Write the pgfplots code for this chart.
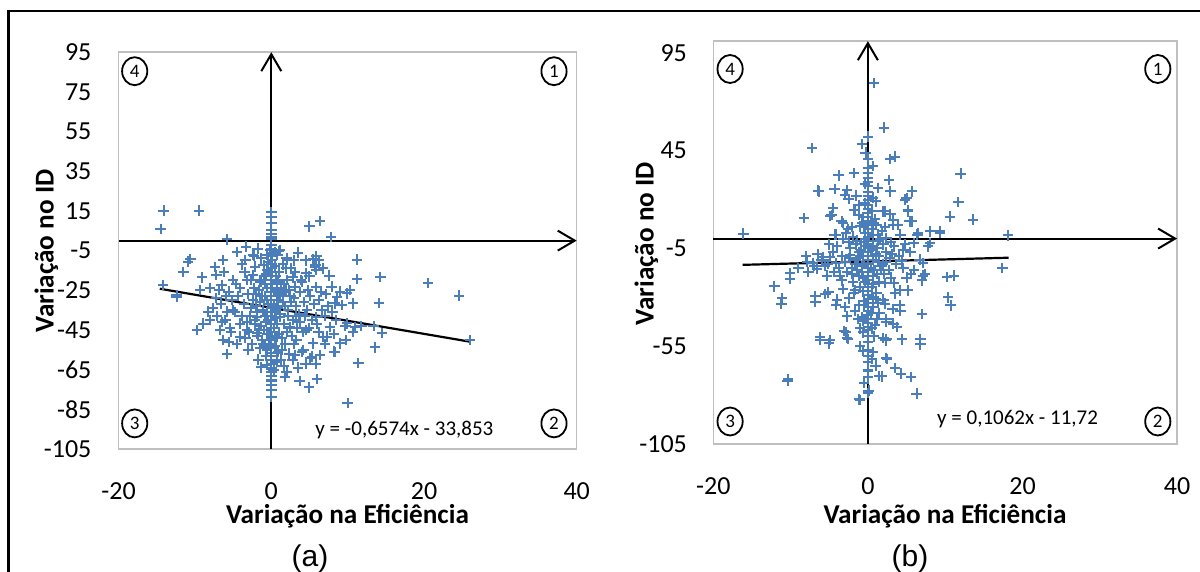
\documentclass[border=0pt]{standalone}
\usepackage{pgfplots}
\pgfplotsset{compat=1.18}
\usepackage{fontspec}
\setmainfont{Carlito}
\newfontfamily\arialfont{Liberation Sans}
\usetikzlibrary{arrows.meta}

\definecolor{ptblue}{RGB}{74,126,187}
\definecolor{framegray}{RGB}{191,191,191}

\pgfplotsset{
  quadrant/.style={
    scale only axis,
    axis line style={framegray, line width=0.8pt},
    xmin=-20, xmax=40, ymin=-105,
    xtick={-20,0,20,40},
    tick style={draw=none},
    major tick length=0pt,
    ticklabel style={font=\fontsize{13}{15}\selectfont, inner sep=0pt},
    /pgf/number format/assume math mode=true,
    xticklabel style={anchor=base, yshift=-25.2pt},
    clip=false,
  },
  pts/.style={only marks, mark=+, mark size=2.6pt, ptblue,
    mark options={line width=1pt}},
  qaxis/.style={black, line width=1pt, -{Straight Barb[length=8.5pt,width=10pt]}},
  trend/.style={black, line width=1.1pt, no marks},
}

\begin{document}
\begin{tikzpicture}
\useasboundingbox (0,0) rectangle (600pt,286pt);

% outer frame
\draw[line width=1.4pt] (4.2pt,-10pt) -- (4.2pt,280.5pt) -- (620pt,280.5pt);

% ---------------- panel (a) ----------------
\begin{axis}[quadrant, at={(59.3pt,61.55pt)}, anchor=south west,
  width=229.05pt, height=198.35pt, ymax=95,
  ytick={-105,-85,...,95},
  yticklabel style={anchor=east, xshift=-13.4pt}]
\addplot[qaxis] coordinates {(-20,0) (40,0)};
\addplot[qaxis] coordinates {(0,-105) (0,95)};
\addplot[pts] coordinates {
(-14.1,15.1) (-9.5,15.1) (-14.5,5.8) (-5.8,0.6) (5.0,7.2) (6.4,9.9) (7.8,1.7)
(0,14.5) (0,12) (0,9) (0,5.4) (0,3.5) (0,2.0) (0,0.8)
(11.2,-9.6) (11.2,-19.4) (14.3,-18.4) (20.5,-21.3) (24.6,-27.7) (26.0,-50.1)
(14.1,-31.5) (14.5,-46.6) (13.6,-53.8) (11.4,-61.8) (10.0,-82) (1.8,-68.9)
(3.7,-70.8) (4.9,-74) (6.0,-69.9) (0,-78.8) (0,-75.5) (0,-73) (0,-71)
(8.2,-55.9) (9.8,-50.1) (9.0,-51.8) (2.8,-60.2) (3.1,-57.7) (5.3,-58.5)
(6.4,-57.7) (8.3,-56)
(-4.5,-5.6) (-2.4,-7.3) (-3.4,-9.8) (-10.6,-9.4) (-10.9,-10.6) (-6.3,-9.8)
(-7.4,-13.4) (-6.2,-15.7) (-11.5,-15.7) (-9.1,-18.5) (-7.2,-17.3) (-6.5,-22.4)
(-14.2,-22.4) (-12.4,-27.4) (-9.3,-24.9) (-8.0,-24) (-6.8,-24.9) (-5.6,-25.7)
(-4.1,-24) (-3.2,-19.8) (-2.4,-17.3) (-2.1,-13.1) (-1.0,-12.3) (-1.5,-19.8)
(-0.2,-4.7) (0.5,-5.6) (1.0,-5.3) (2.1,-9.7) (-2.3,-7.5)
(-12.4,-28.3) (-8.3,-35.8) (-8.0,-40) (-8.9,-41.8) (-9.7,-45.1) (-6.3,-50.1)
(-5.6,-51) (-5.8,-57.2) (-6.7,-45.1) (-6.4,-40.9) (-5.8,-35.8) (-5.0,-35)
(-4.1,-41.8) (-4.1,-48.4) (-3.2,-45.1) (-1.9,-46.8) (-1.5,-54.3) (-0.6,-55.1)
(-1.3,-63.9) (-0.6,-62.7) (0,-66.1) (0,-70.3) (0,-56.8) (-5.4,-44.2) (-1.9,-38.4)
(1.1,-4.7) (2.0,-8.9) (5.7,-13.1) (5.9,-14.8) (4.6,-16.5) (7.6,-17.8) (2.8,-18.5)
(4.0,-20.7) (7.9,-23.2) (5.9,-23.5) (4.8,-24.9) (3.1,-23.2) (1.9,-24.9) (9.0,-25.7)
(10.3,-24.9) (9.9,-26.6) (0.9,-19.8) (0.7,-24.9) (8.3,-31.6) (9.2,-32.5)
(10.7,-31.6) (8.6,-28.3) (6.8,-48.4) (5.5,-51.8) (5.9,-38.4) (4.6,-45.1)
(2.4,-43.4) (1.1,-38.4) (0.7,-48.4) (3.3,-50.1) (4.0,-56) (0.7,-56.8) (0.7,-61)
(4.2,-55.1) (5.1,-59.3) (7.3,-48.4) (7.7,-43.4) (9.7,-43) (11.0,-43.4)
(10.7,-45.9) (11.8,-43) (13.4,-43) (9.9,-41.7) (5.8,-12.1) (7.6,-17.6)
(0,-2) (0,-4) (0,-6) (0,-8) (0.1,-10) (0,-12) (0,-14) (0.1,-16) (0,-18) (0,-20)
(0,-22) (0.1,-24) (0,-26) (0,-28) (0,-30) (0,-32) (0,-34) (0.1,-36) (0,-38)
(0,-40) (0,-42) (0,-44) (0,-46) (0,-48) (0,-50) (0,-52) (0,-54) (0,-58) (0,-60)
(0,-62) (0,-64) (0,-68)
(-0.5,-15) (0.6,-18) (-0.8,-22) (0.9,-27) (-0.6,-30) (0.4,-33) (-1.1,-35)
(1.2,-37) (-0.4,-40) (0.7,-42) (-0.9,-45) (1.0,-47) (-0.3,-50) (0.5,-53)
(-0.7,-58) (1.3,-60) (-1.2,-28) (1.5,-31) (-1.6,-25) (1.7,-22) (-2.0,-33)
(2.2,-35) (-2.4,-30) (2.5,-28) (-2.8,-38) (2.9,-40) (-3.1,-27) (3.2,-33)
(-3.6,-32) (3.6,-37) (-2.2,-42) (2.0,-46) (-1.8,-48) (1.8,-52) (-1.0,-52)
(1.4,-55) (-2.6,-20) (2.6,-14) (-1.3,-9) (1.5,-12) (0.8,-7) (-0.5,-7)
(-3.5,-16) (3.8,-26) (-4.4,-28) (4.3,-31) (-4.8,-36) (4.7,-35) (-3.9,-38)
(3.4,-44) (-2.9,-46) (2.7,-48) (-2.5,-52) (2.3,-57) (-3.4,-49) (1.6,-63)
(-1.7,-60) (0.3,-65) (5.1,-28) (5.6,-32) (6.2,-30) (6.6,-35) (7.0,-38)
(5.3,-40) (6.0,-42) (4.9,-44) (7.4,-33) (8.0,-36) (6.5,-26) (7.2,-27)
(8.5,-40) (4.4,-38) (3.9,-20) (5.0,-18) (3.0,-10) (1.9,-14) (-5.2,-30)
(-5.9,-28) (-6.6,-32) (-7.2,-29) (-7.6,-34) (-4.6,-22) (-3.8,-12) (-5.0,-20)
(-7.1,-38) (-6.0,-40) (-5.3,-46) (-4.5,-52) (-3.0,-55) (2.0,-66) (3.5,-64)
(4.5,-62) (5.8,-62) (7.0,-52) (8.2,-47) (6.2,-46) (3.0,-52) (1.2,-28)
(-1.4,-43) (0.6,-35) (-0.8,-38) (2.1,-20) (-2.3,-24) (1.0,-16) (-0.9,-18)
(3.1,-16) (4.5,-10) (5.9,-8) (6.2,-10) (6.8,-14) (3.5,-6) (-1.8,-4)
(-3.3,-3) (5.5,-9.5)
(-0.4,-11) (0.5,-13) (-0.7,-17) (0.8,-21) (-0.5,-24) (0.6,-26) (-0.8,-28)
(0.7,-30) (-0.4,-32) (0.9,-34) (-0.6,-36) (0.5,-39) (-0.7,-41) (0.4,-44)
(-0.5,-47) (0.6,-49) (-0.8,-53) (0.9,-56) (1.6,-26) (-1.5,-31) (1.8,-33)
(-1.9,-36) (2.2,-38) (-2.1,-40) (1.7,-42) (-1.6,-45) (2.4,-44) (1.4,-49)
(-1.2,-50) (2.6,-31) (-2.7,-34) (3.0,-29) (-3.2,-41) (3.7,-41) (4.1,-46)
(-2.0,-27) (1.3,-24) (2.3,-25) (-1.4,-21) (3.3,-38)
};
% linear trend y = -0,6574x - 33,853
\addplot[trend] coordinates {(-14.6,-24.255) (26,-50.945)};
\end{axis}

% ---------------- panel (b) ----------------
\begin{axis}[quadrant, at={(356.65pt,64.1pt)}, anchor=south west,
  width=231.9pt, height=201.3pt, ymax=101,
  ytick={-105,-55,...,95},
  yticklabel style={anchor=east, xshift=-13pt}]
\addplot[qaxis] coordinates {(-20,0) (40,0)};
\addplot[qaxis] coordinates {(0,-105) (0,101)};
\addplot[pts] coordinates {
(0.8,79.5) (2.1,56.8) (0.05,52.2) (-0.8,48.3) (-7.2,46.3) (2.9,40.7) (3.5,42)
(0,40.8) (-3.8,32.3) (-1.8,33.5) (2.7,30.1) (12.0,33.2) (-6.4,24.6) (-4.3,25.5)
(-2.7,25) (-3.0,22.5) (-1.5,22) (-2.5,20.2) (2.9,24.1) (5.7,24.1) (5.0,20.7)
(4.8,19.9) (11.7,18.7) (-4.5,15.6) (-4.7,12.2) (-1.8,14.8) (-8.3,10.5)
(-3.4,8.8) (1.9,13.9) (2.9,12.7) (5.2,13.9) (5.7,8.8) (3.3,9.7) (3.9,7.1)
(10.6,11.3) (13.6,9.7) (8.0,3.7) (9.3,3.7) (6.5,2.9) (-16.1,2.5) (18.1,1.6)
(-4.3,2.0)
(0,33.5) (0,26.7) (0,19.8) (0,17) (0,15) (0,13) (0,11) (0,9) (0,7) (0,5) (0,3) (0,1)
(-4.9,11.7) (-6.3,24.1) (-1.7,14.8) (-3.2,8) (-2.6,4.9) (-4.1,2.0) (-1.0,6.2)
(1.1,7.1) (2.2,13.9) (-7.9,-11.9) (-7.1,-12.7) (-5.8,-9.4) (-4.9,-9.4)
(-6.6,-15.7) (-7.7,-17.1) (-10.1,-20.6) (-5.3,-18.9) (-4.1,-12.7) (-3.6,-18.9)
(-2.7,-17.1) (-3.4,-21.4) (-1.9,-22.3) (-2.3,-8.2)
(-12.1,-24.5) (-11.2,-33.4) (-6.8,-32.3) (-5.5,-28.3) (-5.1,-27.5) (-4.1,-33.9)
(-3.2,-25.7) (-2.4,-30.6) (-1.7,-26.4) (-2.7,-39.8) (-1.7,-37) (-1.0,-46)
(-6.2,-51.9) (-5.0,-53.6) (-3.1,-47.4) (-2.7,-50.8) (-10.3,-72.1) (-1.1,-82.3)
(0.1,-77.8) (1.5,-70.4) (0,-67) (0.5,-61.5) (2.4,-61) (2.4,-51.6) (2.0,-50.8)
(0,-50) (0,-53) (0,-57) (-0.6,-57.6) (2.4,-41.4) (2.0,-31.2) (2.2,-22.7)
(17.4,-15.0) (9.3,3.0) (8.0,-2.3) (5.2,14.4) (5.4,8.8) (10.2,-19.6) (11.1,-18.9)
(10.4,-30.1) (10.7,-34.2) (7.1,-18.9) (7.4,-18.1) (7.0,-21.4) (5.2,-26.5)
(4.2,-26.5) (3.4,-22.6) (4.2,-36.8) (7.0,-38.5) (6.8,-54.1) (4.4,-51.6)
(3.3,-43.5) (3.8,-45.2) (2.4,-42.7) (2.2,-33.3) (2.3,-52.1) (6.4,2.0) (7.8,-4.0)
(5.9,-2.3) (4.6,-5.7) (6.7,-10.8) (7.1,-12.5) (4.4,-11.7) (3.3,7.1) (2.4,0.3)
(4.2,2.0)
(-11.1,-30.4) (-10.1,-17.8) (-6.8,-29.3) (-4.0,-31.2) (6.3,-79.3) (5.6,-70.9)
(4.3,-69.1) (3.5,-66.3) (2.5,-61.6) (1.8,-70.5) (-1.0,-82.6) (0,-79) (0,-67.6)
(-10.4,-72.8) (-6.2,-50.4) (-4.9,-51.9) (-2.8,-48) (-2.6,-51.4) (4.1,-34.2)
(6.8,-51.3)
(0,-1) (0,-3) (0,-5) (0,-7) (0,-9) (0,-11) (0,-13) (0,-15) (0,-17) (0,-19)
(0,-21) (0,-23) (0,-25) (0,-27) (0,-29) (0,-31) (0,-33) (0,-35) (0,-37) (0,-39)
(0,-41) (0,-43) (0,-45) (0,-47) (0,-60) (0,-63) (0,-71) (0,22) (0,24) (0,29)
(0,31) (0,36)
(-0.5,-2) (0.6,-4) (-0.9,-6) (1.0,-8) (-1.3,-10) (1.4,-12) (-0.7,-14) (0.8,-16)
(-1.5,-3) (1.6,0) (-1.9,1) (2.0,-3) (-2.3,-5) (2.4,-7) (-0.4,3) (0.5,5)
(-0.8,8) (0.9,10) (-1.2,12) (1.3,2) (-2.1,6) (1.8,4) (-0.6,-20) (0.7,-23)
(-1.0,-25) (1.1,-28) (-0.5,-32) (0.6,-35) (-0.8,-40) (0.9,-44) (-0.6,-48)
(0.8,-50) (1.2,-18) (-1.4,-16) (1.6,-14) (-1.7,-13) (2.8,-10) (-2.9,-12)
(3.1,-8) (-3.3,-9) (3.6,-13) (-3.8,-15) (2.7,-16) (-2.5,-2) (3.0,-2) (-3.2,0)
(3.4,-4) (-4.0,-4) (4.0,-9) (-4.5,-7) (4.6,-15) (-5.2,-13) (5.0,-20) (-5.6,-14)
(5.6,-18) (-6.0,-11) (6.0,-16) (-4.4,-17) (3.0,-20) (1.5,-22) (-1.8,-28)
(1.3,-33) (-1.3,-41) (1.5,-38) (3.5,-28) (-3.0,-35) (3.2,-36) (-2.0,-18)
(4.8,-3) (5.5,-7) (-6.5,-8) (-7.0,-14) (-8.0,-9) (-9.0,-15) (-5.0,-3) (-2.8,3)
(2.2,6) (-1.1,17) (1.0,19) (-0.4,28) (0.6,37) (-0.3,44) (1.3,26) (-1.0,-55)
(0.6,-58) (1.0,-65) (-0.5,-74)
(-0.4,-4) (0.5,-6) (-0.6,-9) (0.7,-11) (-0.5,-13) (0.4,-15) (-0.7,-17)
(0.6,-19) (-0.4,-22) (0.5,-25) (-0.6,-27) (0.7,-30) (-0.5,-34) (0.4,-38)
(-0.6,-42) (0.5,-46) (-0.4,0) (0.6,2) (-0.5,6) (0.7,8) (-0.6,11) (0.5,14)
(-0.4,18) (0.6,21) (1.2,-5) (-1.1,-7) (1.4,-9) (-1.6,-11) (1.9,-13)
(-2.0,-15) (2.3,-12) (-2.4,-10) (1.7,-16) (-1.2,-19) (2.1,-18) (1.3,-1)
(-1.4,-1) (1.0,-31) (-1.1,-34) (1.2,-41)
};
% linear trend y = 0,1062x - 11,72
\addplot[trend] coordinates {(-16.2,-13.440) (18.2,-9.787)};
\end{axis}

% axis titles
\begin{scope}[font=\fontsize{13.6}{15}\selectfont\bfseries]
\node[anchor=base, inner sep=0pt] at (173.75pt,24.15pt) {Variação na Eficiência};
\node[anchor=base, inner sep=0pt] at (472.5pt,24.15pt) {Variação na Eficiência};
\node[anchor=base, inner sep=0pt, rotate=90] at (26.8pt,160.5pt) {Variação no ID};
\node[anchor=base, inner sep=0pt, rotate=90] at (326.8pt,164.2pt) {Variação no ID};
\end{scope}

% regression equations
\begin{scope}[font=\fontsize{10.5}{12}\selectfont]
\node[anchor=base east, inner sep=0pt] at (246.85pt,68.3pt) {y = -0,6574x - 33,853};
\node[anchor=base east, inner sep=0pt] at (549.15pt,73.95pt) {y = 0,1062x - 11,72};
\end{scope}

% quadrant numbers
\begin{scope}[font=\fontsize{9.5}{10}\selectfont, line width=0.9pt]
\foreach \cx/\cy/\q in {67.35/250.4/4, 277/250.4/1, 67.35/74.3/3, 277/74.3/2,
                        365.05/251.5/4, 578.9/251.5/1, 365.05/75.25/3, 578.9/75.25/2} {
  \draw (\cx pt,\cy pt) ellipse [x radius=6.3pt, y radius=7pt];
  \node[inner sep=0pt] at (\cx pt,\cy pt) {\q};
}
\end{scope}

% panel captions
\node[anchor=base, inner sep=0pt, font=\arialfont\fontsize{15}{17}\selectfont] at (155pt,2.5pt) {(a)};
\node[anchor=base, inner sep=0pt, font=\arialfont\fontsize{15}{17}\selectfont] at (455pt,2.5pt) {(b)};
\end{tikzpicture}
\end{document}
